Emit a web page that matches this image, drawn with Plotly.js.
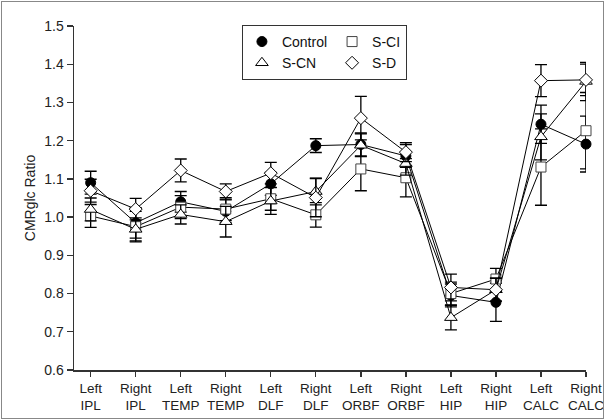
<!DOCTYPE html>
<html>
<head>
<meta charset="utf-8">
<script src="https://cdn.plot.ly/plotly-3.0.1.min.js"></script>
<style>
  html, body { margin: 0; padding: 0; background: #fff; }
  #chart { width: 605px; height: 420px; }
  #frame { position: absolute; left: 1px; top: 1px; width: 601px; height: 416px; border: 1px solid #888; pointer-events: none; }
</style>
</head>
<body>
<div id="chart"></div>
<div id="frame"></div>
<script>
// ---- data ----
const regions = ["Left IPL", "Right IPL", "Left TEMP", "Right TEMP", "Left DLF", "Right DLF",
                 "Left ORBF", "Right ORBF", "Left HIP", "Right HIP", "Left CALC", "Right CALC"];
const tickLabels = ["Left<br>IPL", "Right<br>IPL", "Left<br>TEMP", "Right<br>TEMP", "Left<br>DLF", "Right<br>DLF",
                    "Left<br>ORBF", "Right<br>ORBF", "Left<br>HIP", "Right<br>HIP", "Left<br>CALC", "Right<br>CALC"];

const control    = [1.090, 0.985, 1.040, 1.015, 1.087, 1.187, 1.190, 1.160, 0.795, 0.777, 1.243, 1.191];
const controlErr = [0.030, 0.040, 0.027, 0.030, 0.030, 0.018, 0.030, 0.030, 0.030, 0.050, 0.050, 0.073];

const sCI        = [1.003, 0.975, 1.026, 1.021, 1.048, 1.006, 1.126, 1.103, 0.800, 0.838, 1.131, 1.226];
const sCIErr     = [0.030, 0.040, 0.030, 0.030, 0.030, 0.032, 0.057, 0.050, 0.030, 0.028, 0.100, 0.100];

const sCN        = [1.020, 0.968, 1.007, 0.988, 1.042, 1.067, 1.188, 1.140, 0.737, 0.810, 1.210, 1.355];
const sCNErr     = [0.030, 0.030, 0.025, 0.040, 0.035, 0.035, 0.030, 0.030, 0.032, 0.030, 0.060, 0.050];

const sD         = [1.069, 1.021, 1.122, 1.067, 1.115, 1.051, 1.259, 1.170, 0.816, 0.810, 1.357, 1.359];
const sDErr      = [0.030, 0.028, 0.030, 0.020, 0.028, 0.050, 0.057, 0.025, 0.035, 0.030, 0.042, 0.041];

// ---- styles ----
const FONT = "'Liberation Sans', Arial, sans-serif";
const seriesDefs = [
  {name: "Control", y: control, err: controlErr, group: "a",
   marker: {symbol: "circle", size: 10, color: "#000", line: {color: "#000", width: 1}}},
  {name: "S-CI", y: sCI, err: sCIErr, group: "b",
   marker: {symbol: "square", size: 10, color: "#fff", line: {color: "#444", width: 1}}},
  {name: "S-CN", y: sCN, err: sCNErr, group: "a",
   marker: {symbol: "triangle-up", size: 11, color: "#fff", line: {color: "#000", width: 1}}},
  {name: "S-D", y: sD, err: sDErr, group: "b",
   marker: {symbol: "diamond", size: 10, color: "#fff", line: {color: "#000", width: 1}}}
];

const traces = [];
seriesDefs.forEach(s => {
  traces.push({
    type: "scatter", mode: "lines+markers", x: regions, y: s.y, name: s.name,
    showlegend: false, cliponaxis: false,
    line: {color: "#000", width: 1},
    marker: s.marker,
    error_y: {type: "data", array: s.err, visible: true, color: "#000", thickness: 1.3, width: 6}
  });
});
// legend-only entries (markers without line)
seriesDefs.forEach(s => {
  traces.push({
    type: "scatter", mode: "markers", x: [null], y: [null], name: s.name,
    legendgroup: s.group, showlegend: true, marker: s.marker
  });
});

const layout = {
  width: 605, height: 420,
  margin: {l: 74, r: 19, t: 26, b: 50},
  paper_bgcolor: "#fff", plot_bgcolor: "#fff",
  font: {family: FONT, size: 14, color: "#222"},
  showlegend: true,
  legend: {
    orientation: "h", traceorder: "grouped", tracegroupgap: 0,
    x: 0.328, y: 1.003, xanchor: "left", yanchor: "top",
    bordercolor: "#333", borderwidth: 1, bgcolor: "#fff",
    font: {family: FONT, size: 14, color: "#111"},
    itemwidth: 30
  },
  xaxis: {
    type: "category", range: [-0.37, 11.0],
    tickvals: regions, ticktext: tickLabels,
    showline: true, linecolor: "#333", linewidth: 1.5,
    ticks: "outside", ticklen: 5, tickcolor: "#333", tickwidth: 1.3,
    showgrid: false, zeroline: false,
    tickfont: {family: FONT, size: 13.5, color: "#222"}
  },
  yaxis: {
    range: [0.6, 1.5], dtick: 0.1, tick0: 0.6, tickformat: ".1f",
    showline: true, linecolor: "#333", linewidth: 1.5,
    ticks: "outside", ticklen: 6, tickcolor: "#333", tickwidth: 1.3,
    showgrid: false, zeroline: false,
    tickfont: {family: FONT, size: 14, color: "#222"},
    title: {text: "CMRglc Ratio", font: {family: FONT, size: 14, color: "#222"}, standoff: 5}
  }
};

Plotly.newPlot("chart", traces, layout, {displayModeBar: false, staticPlot: true});
</script>
</body>
</html>
